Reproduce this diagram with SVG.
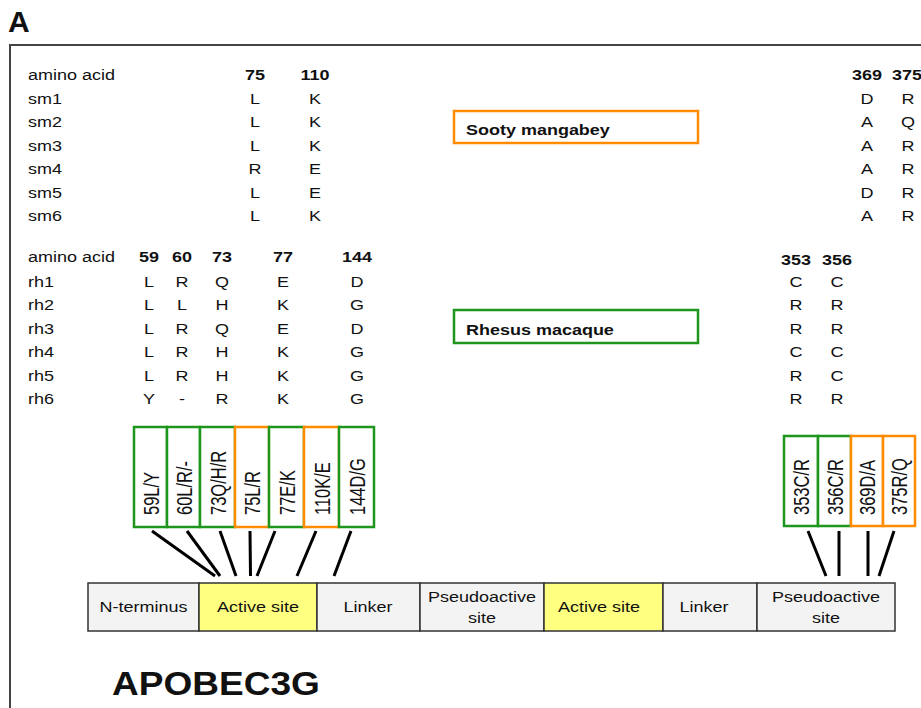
<svg xmlns="http://www.w3.org/2000/svg" width="921" height="708" viewBox="0 0 921 708">
<style>
text{font-family:"Liberation Sans",Arial,sans-serif;fill:#111}
.t{font-size:15px}
.m{text-anchor:middle}
.b{font-weight:bold}
.g{fill:#fff;stroke:#1e961e;stroke-width:2.5}
.o{fill:#fff;stroke:#ff8c00;stroke-width:2.5}
.r{font-size:16.5px}
.seg{fill:#f3f3f3;stroke:#333;stroke-width:1.5}
.y{fill:#ffff80;stroke:#333;stroke-width:1.5}
.ln{stroke:#000;stroke-width:3;fill:none}
</style>
<rect width="921" height="708" fill="#fff"/>
<text class="b" x="8" y="32" font-size="30">A</text>
<rect x="10" y="45" width="1000" height="1000" fill="none" stroke="#444" stroke-width="2"/>

<g id="sm-table">
<text class="t" transform="translate(28,80) scale(1.2,1)">amino acid</text>
<text class="t m b" transform="translate(255,80) scale(1.2,1)">75</text>
<text class="t m b" transform="translate(315,80) scale(1.2,1)">110</text>
<text class="t m b" transform="translate(867,80) scale(1.2,1)">369</text>
<text class="t m b" transform="translate(907,80) scale(1.2,1)">375</text>
<text class="t" transform="translate(28,103.5) scale(1.2,1)">sm1</text>
<text class="t m" transform="translate(255,103.5) scale(1.2,1)">L</text>
<text class="t m" transform="translate(315,103.5) scale(1.2,1)">K</text>
<text class="t m" transform="translate(867,103.5) scale(1.2,1)">D</text>
<text class="t m" transform="translate(908,103.5) scale(1.2,1)">R</text>
<text class="t" transform="translate(28,127) scale(1.2,1)">sm2</text>
<text class="t m" transform="translate(255,127) scale(1.2,1)">L</text>
<text class="t m" transform="translate(315,127) scale(1.2,1)">K</text>
<text class="t m" transform="translate(867,127) scale(1.2,1)">A</text>
<text class="t m" transform="translate(908,127) scale(1.2,1)">Q</text>
<text class="t" transform="translate(28,150.5) scale(1.2,1)">sm3</text>
<text class="t m" transform="translate(255,150.5) scale(1.2,1)">L</text>
<text class="t m" transform="translate(315,150.5) scale(1.2,1)">K</text>
<text class="t m" transform="translate(867,150.5) scale(1.2,1)">A</text>
<text class="t m" transform="translate(908,150.5) scale(1.2,1)">R</text>
<text class="t" transform="translate(28,174) scale(1.2,1)">sm4</text>
<text class="t m" transform="translate(255,174) scale(1.2,1)">R</text>
<text class="t m" transform="translate(315,174) scale(1.2,1)">E</text>
<text class="t m" transform="translate(867,174) scale(1.2,1)">A</text>
<text class="t m" transform="translate(908,174) scale(1.2,1)">R</text>
<text class="t" transform="translate(28,197.5) scale(1.2,1)">sm5</text>
<text class="t m" transform="translate(255,197.5) scale(1.2,1)">L</text>
<text class="t m" transform="translate(315,197.5) scale(1.2,1)">E</text>
<text class="t m" transform="translate(867,197.5) scale(1.2,1)">D</text>
<text class="t m" transform="translate(908,197.5) scale(1.2,1)">R</text>
<text class="t" transform="translate(28,221) scale(1.2,1)">sm6</text>
<text class="t m" transform="translate(255,221) scale(1.2,1)">L</text>
<text class="t m" transform="translate(315,221) scale(1.2,1)">K</text>
<text class="t m" transform="translate(867,221) scale(1.2,1)">A</text>
<text class="t m" transform="translate(908,221) scale(1.2,1)">R</text>
</g>

<g id="sooty-label">
<rect class="o" x="454" y="111" width="244" height="32"/>
<text class="t b" transform="translate(466,135) scale(1.2,1)">Sooty mangabey</text>
</g>

<g id="rh-table">
<text class="t" transform="translate(28,262) scale(1.2,1)">amino acid</text>
<text class="t m b" transform="translate(149,262) scale(1.2,1)">59</text>
<text class="t m b" transform="translate(182,262) scale(1.2,1)">60</text>
<text class="t m b" transform="translate(222,262) scale(1.2,1)">73</text>
<text class="t m b" transform="translate(283,262) scale(1.2,1)">77</text>
<text class="t m b" transform="translate(357,262) scale(1.2,1)">144</text>
<text class="t m b" transform="translate(796,265) scale(1.2,1)">353</text>
<text class="t m b" transform="translate(837,265) scale(1.2,1)">356</text>

<text class="t" transform="translate(28,286.5) scale(1.2,1)">rh1</text>
<text class="t m" transform="translate(149,286.5) scale(1.2,1)">L</text>
<text class="t m" transform="translate(182,286.5) scale(1.2,1)">R</text>
<text class="t m" transform="translate(222,286.5) scale(1.2,1)">Q</text>
<text class="t m" transform="translate(283,286.5) scale(1.2,1)">E</text>
<text class="t m" transform="translate(357,286.5) scale(1.2,1)">D</text>
<text class="t m" transform="translate(796,286.5) scale(1.2,1)">C</text>
<text class="t m" transform="translate(837,286.5) scale(1.2,1)">C</text>

<text class="t" transform="translate(28,310) scale(1.2,1)">rh2</text>
<text class="t m" transform="translate(149,310) scale(1.2,1)">L</text>
<text class="t m" transform="translate(182,310) scale(1.2,1)">L</text>
<text class="t m" transform="translate(222,310) scale(1.2,1)">H</text>
<text class="t m" transform="translate(283,310) scale(1.2,1)">K</text>
<text class="t m" transform="translate(357,310) scale(1.2,1)">G</text>
<text class="t m" transform="translate(796,310) scale(1.2,1)">R</text>
<text class="t m" transform="translate(837,310) scale(1.2,1)">R</text>

<text class="t" transform="translate(28,333.5) scale(1.2,1)">rh3</text>
<text class="t m" transform="translate(149,333.5) scale(1.2,1)">L</text>
<text class="t m" transform="translate(182,333.5) scale(1.2,1)">R</text>
<text class="t m" transform="translate(222,333.5) scale(1.2,1)">Q</text>
<text class="t m" transform="translate(283,333.5) scale(1.2,1)">E</text>
<text class="t m" transform="translate(357,333.5) scale(1.2,1)">D</text>
<text class="t m" transform="translate(796,333.5) scale(1.2,1)">R</text>
<text class="t m" transform="translate(837,333.5) scale(1.2,1)">R</text>

<text class="t" transform="translate(28,357) scale(1.2,1)">rh4</text>
<text class="t m" transform="translate(149,357) scale(1.2,1)">L</text>
<text class="t m" transform="translate(182,357) scale(1.2,1)">R</text>
<text class="t m" transform="translate(222,357) scale(1.2,1)">H</text>
<text class="t m" transform="translate(283,357) scale(1.2,1)">K</text>
<text class="t m" transform="translate(357,357) scale(1.2,1)">G</text>
<text class="t m" transform="translate(796,357) scale(1.2,1)">C</text>
<text class="t m" transform="translate(837,357) scale(1.2,1)">C</text>

<text class="t" transform="translate(28,380.5) scale(1.2,1)">rh5</text>
<text class="t m" transform="translate(149,380.5) scale(1.2,1)">L</text>
<text class="t m" transform="translate(182,380.5) scale(1.2,1)">R</text>
<text class="t m" transform="translate(222,380.5) scale(1.2,1)">H</text>
<text class="t m" transform="translate(283,380.5) scale(1.2,1)">K</text>
<text class="t m" transform="translate(357,380.5) scale(1.2,1)">G</text>
<text class="t m" transform="translate(796,380.5) scale(1.2,1)">R</text>
<text class="t m" transform="translate(837,380.5) scale(1.2,1)">C</text>

<text class="t" transform="translate(28,404) scale(1.2,1)">rh6</text>
<text class="t m" transform="translate(149,404) scale(1.2,1)">Y</text>
<text class="t m" transform="translate(182,404) scale(1.2,1)">-</text>
<text class="t m" transform="translate(222,404) scale(1.2,1)">R</text>
<text class="t m" transform="translate(283,404) scale(1.2,1)">K</text>
<text class="t m" transform="translate(357,404) scale(1.2,1)">G</text>
<text class="t m" transform="translate(796,404) scale(1.2,1)">R</text>
<text class="t m" transform="translate(837,404) scale(1.2,1)">R</text>
</g>

<g id="rhesus-label">
<rect class="g" x="454" y="310" width="244" height="33"/>
<text class="t b" transform="translate(466,335) scale(1.2,1)">Rhesus macaque</text>
</g>

<g id="mut-59"><rect class="g" x="134" y="427" width="33" height="100"/><text class="r" transform="translate(158.5,515) scale(1.3,1) rotate(-90)">59L/Y</text></g>
<g id="mut-60"><rect class="g" x="167" y="427" width="33" height="100"/><text class="r" transform="translate(191.5,515) scale(1.3,1) rotate(-90)">60L/R/-</text></g>
<g id="mut-73"><rect class="g" x="200" y="427" width="35" height="100"/><text class="r" transform="translate(225.5,515) scale(1.3,1) rotate(-90)">73Q/H/R</text></g>
<g id="mut-75"><rect class="o" x="235" y="427" width="34" height="100"/><text class="r" transform="translate(260,515) scale(1.3,1) rotate(-90)">75L/R</text></g>
<g id="mut-77"><rect class="g" x="269" y="427" width="35" height="100"/><text class="r" transform="translate(294.5,515) scale(1.3,1) rotate(-90)">77E/K</text></g>
<g id="mut-110"><rect class="o" x="304" y="427" width="35" height="100"/><text class="r" transform="translate(329.5,515) scale(1.3,1) rotate(-90)">110K/E</text></g>
<g id="mut-144"><rect class="g" x="339" y="427" width="35" height="100"/><text class="r" transform="translate(364.5,515) scale(1.3,1) rotate(-90)">144D/G</text></g>

<g id="mut-353"><rect class="g" x="784" y="436" width="34" height="90"/><text class="r" transform="translate(809,515) scale(1.3,1) rotate(-90)">353C/R</text></g>
<g id="mut-356"><rect class="g" x="818" y="436" width="33" height="90"/><text class="r" transform="translate(842.5,515) scale(1.3,1) rotate(-90)">356C/R</text></g>
<g id="mut-369"><rect class="o" x="851" y="436" width="32" height="90"/><text class="r" transform="translate(875,515) scale(1.3,1) rotate(-90)">369D/A</text></g>
<g id="mut-375"><rect class="o" x="883" y="436" width="32" height="90"/><text class="r" transform="translate(907,515) scale(1.3,1) rotate(-90)">375R/Q</text></g>

<g id="connectors">
<line class="ln" x1="152" y1="531" x2="215" y2="576"/>
<line class="ln" x1="187" y1="531" x2="220" y2="576"/>
<line class="ln" x1="220" y1="531" x2="236" y2="576"/>
<line class="ln" x1="250" y1="531" x2="250.5" y2="576"/>
<line class="ln" x1="275" y1="531" x2="257" y2="576"/>
<line class="ln" x1="316" y1="531" x2="297" y2="576"/>
<line class="ln" x1="351" y1="531" x2="334" y2="576"/>
<line class="ln" x1="808" y1="531" x2="826" y2="576"/>
<line class="ln" x1="839" y1="531" x2="839" y2="576"/>
<line class="ln" x1="868" y1="531" x2="868" y2="576"/>
<line class="ln" x1="894" y1="531" x2="879" y2="576"/>
</g>

<g id="apobec3g-bar">
<g id="n-terminus"><rect class="seg" x="88" y="583" width="111" height="48"/><text class="t m" transform="translate(143.5,612) scale(1.2,1)">N-terminus</text></g>
<g id="active-site-1"><rect class="y" x="199" y="583" width="118" height="48"/><text class="t m" transform="translate(258,612) scale(1.2,1)">Active site</text></g>
<g id="linker-1"><rect class="seg" x="317" y="583" width="103" height="48"/><text class="t m" transform="translate(368,612) scale(1.2,1)">Linker</text></g>
<g id="pseudoactive-1"><rect class="seg" x="420" y="583" width="124" height="48"/><text class="t m" transform="translate(482,602) scale(1.2,1)">Pseudoactive</text><text class="t m" transform="translate(482,623) scale(1.2,1)">site</text></g>
<g id="active-site-2"><rect class="y" x="544" y="583" width="119" height="48"/><text class="t m" transform="translate(599,612) scale(1.2,1)">Active site</text></g>
<g id="linker-2"><rect class="seg" x="663" y="583" width="94" height="48"/><text class="t m" transform="translate(704,612) scale(1.2,1)">Linker</text></g>
<g id="pseudoactive-2"><rect class="seg" x="757" y="583" width="138" height="48"/><text class="t m" transform="translate(826,602) scale(1.2,1)">Pseudoactive</text><text class="t m" transform="translate(826,623) scale(1.2,1)">site</text></g>
</g>

<text class="b" font-size="34" transform="translate(112,695) scale(1.09,1)">APOBEC3G</text>
</svg>
